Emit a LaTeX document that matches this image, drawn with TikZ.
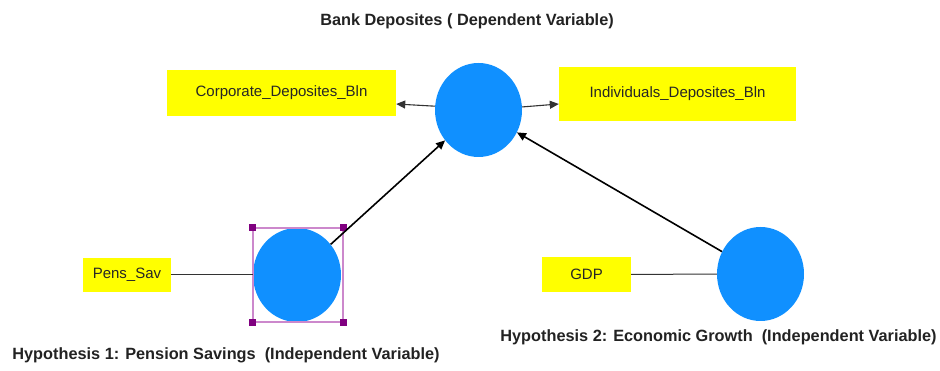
\documentclass[tikz,border=0pt]{standalone}
\usepackage{fontspec}
\setmainfont{Liberation Sans}
\usetikzlibrary{shapes.geometric,arrows.meta}
\definecolor{nodeblue}{RGB}{16,144,255}
\definecolor{boxyellow}{RGB}{255,255,0}
\definecolor{selline}{RGB}{204,136,204}
\definecolor{selhandle}{RGB}{128,0,128}
\definecolor{txtdark}{RGB}{34,34,34}
\begin{document}
\begin{tikzpicture}[x=1pt,y=-1pt,
  latent/.style={ellipse,fill=nodeblue,draw=none,inner sep=0pt,minimum width=87pt,minimum height=94pt},
  indicator/.style={rectangle,fill=boxyellow,draw=none,inner sep=0pt,font=\fontsize{15}{17}\selectfont,text=black!85},
  caption/.style={font=\bfseries\fontsize{16.3}{18}\selectfont,text=txtdark},
  path/.style={line width=1.6pt,-{Triangle[length=9pt,width=8pt]}},
  load/.style={line width=1.1pt,black!80,-{Triangle[length=9pt,width=8pt]}},
  plain/.style={line width=1pt,black!80},
  handle/.style={rectangle,fill=selhandle,draw=none,inner sep=0pt,minimum size=7pt}]
\useasboundingbox (0,0) rectangle (940,371);
% nodes
\node[latent] (top) at (478.5,110) {};
\node[latent,minimum width=88pt] (c2) at (297,275) {};
\node[latent] (c3) at (760.5,274) {};
\node[indicator,minimum width=229pt,minimum height=46pt] (corp) at (281.5,93) {Corporate\_Deposites\_Bln};
\node[indicator,minimum width=237pt,minimum height=54pt] (ind) at (677.5,94) {Individuals\_Deposites\_Bln};
\node[indicator,minimum width=88pt,minimum height=34pt] (pens) at (127,275) {Pens\_Sav};
\node[indicator,minimum width=89pt,minimum height=35pt] (gdp) at (586.5,274.5) {GDP};
% selection frame
\node[draw=selline,line width=1.2pt,minimum width=90pt,minimum height=94pt,inner sep=0pt] (sel) at (298,275) {};
\foreach \a in {north west,north east,south west,south east}
  \node[handle] at (sel.\a) {};
% captions
\node[caption] (title) at (467,21) {Bank Deposites ( Dependent Variable)};
\node[caption] (h1) at (226,355) {Hypothesis 1: Pension Savings\ \ (Independent Variable)};
\node[caption] (h2) at (718.5,337) {Hypothesis 2: Economic Growth\ \ (Independent Variable)};
% connectors
\draw[load] (top.175) -- ([yshift=-11pt]corp.east);
\draw[load] (top.4) -- ([yshift=-10pt]ind.west);
\draw[path] (c2) -- (top);
\draw[path] (c3) -- (top);
\draw[plain] (pens) -- (c2);
\draw[plain] (gdp) -- (c3);
\end{tikzpicture}
\end{document}
